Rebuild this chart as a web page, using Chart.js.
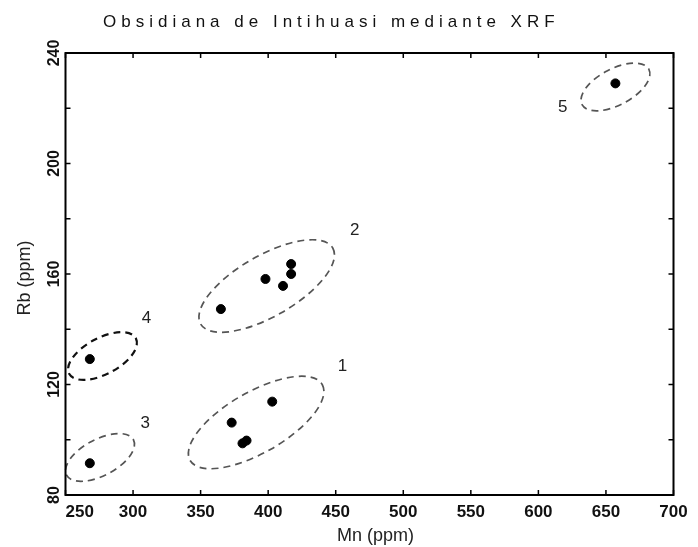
<!DOCTYPE html>
<html>
<head>
<meta charset="utf-8">
<script src="https://cdn.jsdelivr.net/npm/chart.js@4"></script>
<style>
  html, body { margin: 0; padding: 0; background: #fff; }
  canvas { display: block; }
</style>
</head>
<body>
<canvas id="chartXRF" width="698" height="547"></canvas>
<script>
// ── Dados ──
const mnValues = [657, 365, 398, 411, 417, 417, 403, 373, 381, 384, 268, 268];
const rbValues = [229, 147.3, 158.2, 155.7, 160, 163.6, 113.8, 106.2, 98.7, 99.7, 129.2, 91.5];

const xTicks = [250, 300, 350, 400, 450, 500, 550, 600, 650, 700];
const yTicks = [80, 120, 160, 200, 240];
const yMinorTicks = [100, 140, 180, 220];

// grupos: extremos do eixo maior (Mn, Rb) e razão eixo menor / maior
const groupNames = ['1', '2', '3', '4', '5'];
const groupMn1 = [342.2, 350, 250.8, 252.7, 632.3];
const groupRb1 = [92.5, 141.9, 87.2, 123.9, 221.3];
const groupMn2 = [440, 447.8, 300.3, 302.1, 681.8];
const groupRb2 = [120, 169.4, 100, 136.7, 234.1];
const groupRatio = [0.4, 0.4, 0.48, 0.48, 0.48];
const labelMn = [455, 464, 309, 310, 618];
const labelRb = [126.7, 175.9, 106, 144.1, 220.5];

const TITLE = 'Obsidiana de Intihuasi mediante XRF';
const FONT = '"Liberation Sans", Arial, sans-serif';

// ── Plugin: moldura, ticks, rótulos, elipses ──
const xrfDecor = {
  id: 'xrfDecor',
  afterDatasetsDraw(chart) {
    const { ctx, chartArea: a, scales: { x, y } } = chart;
    ctx.save();

    // elipses tracejadas
    groupNames.forEach((g, i) => {
      const x1 = x.getPixelForValue(groupMn1[i]), y1 = y.getPixelForValue(groupRb1[i]);
      const x2 = x.getPixelForValue(groupMn2[i]), y2 = y.getPixelForValue(groupRb2[i]);
      const rx = Math.hypot(x2 - x1, y2 - y1) / 2;
      ctx.beginPath();
      ctx.ellipse((x1 + x2) / 2, (y1 + y2) / 2, rx, rx * groupRatio[i], Math.atan2(y2 - y1, x2 - x1), 0, Math.PI * 2);
      ctx.setLineDash([7, 5]);
      ctx.lineWidth = g === '4' ? 2.2 : 1.7;
      ctx.strokeStyle = g === '4' ? '#111' : '#555';
      ctx.stroke();
    });
    ctx.setLineDash([]);

    // números dos grupos
    ctx.fillStyle = '#222';
    ctx.font = '17px ' + FONT;
    ctx.textAlign = 'center';
    ctx.textBaseline = 'middle';
    groupNames.forEach((g, i) => {
      ctx.fillText(g, x.getPixelForValue(labelMn[i]), y.getPixelForValue(labelRb[i]));
    });

    // moldura
    ctx.strokeStyle = '#000';
    ctx.lineWidth = 2;
    ctx.strokeRect(a.left, a.top, a.right - a.left, a.bottom - a.top);

    // ticks para dentro nos quatro lados
    const tl = 5;
    ctx.lineWidth = 1.5;
    ctx.beginPath();
    xTicks.forEach(v => {
      const px = x.getPixelForValue(v);
      ctx.moveTo(px, a.bottom); ctx.lineTo(px, a.bottom - tl);
      ctx.moveTo(px, a.top); ctx.lineTo(px, a.top + tl);
    });
    yTicks.concat(yMinorTicks).forEach(v => {
      const py = y.getPixelForValue(v);
      ctx.moveTo(a.left, py); ctx.lineTo(a.left + tl, py);
      ctx.moveTo(a.right, py); ctx.lineTo(a.right - tl, py);
    });
    ctx.stroke();

    // rótulos do eixo x
    ctx.fillStyle = '#111';
    ctx.font = 'bold 17px ' + FONT;
    xTicks.forEach((v, i) => {
      ctx.textAlign = i === 0 ? 'left' : 'center';
      ctx.fillText(String(v), x.getPixelForValue(v), 512);
    });

    // rótulos do eixo y (girados)
    ctx.font = 'bold 16px ' + FONT;
    ctx.textAlign = 'center';
    yTicks.forEach(v => {
      ctx.save();
      ctx.translate(55, y.getPixelForValue(v));
      ctx.rotate(-Math.PI / 2);
      ctx.fillText(String(v), 0, 0);
      ctx.restore();
    });

    // títulos dos eixos
    ctx.fillStyle = '#222';
    ctx.font = '18px ' + FONT;
    ctx.fillText('Mn (ppm)', (a.left + a.right) / 2 + 6, 536);
    ctx.save();
    ctx.translate(25, (a.top + a.bottom) / 2 + 4);
    ctx.rotate(-Math.PI / 2);
    ctx.fillText('Rb (ppm)', 0, 0);
    ctx.restore();

    // título com letras espaçadas
    ctx.fillStyle = '#111';
    ctx.font = '17px ' + FONT;
    ctx.textAlign = 'left';
    ctx.letterSpacing = '5px';
    ctx.fillText(TITLE, 103, 22);
    ctx.letterSpacing = '0px';

    ctx.restore();
  }
};

const ctx = document.getElementById('chartXRF').getContext('2d');
new Chart(ctx, {
  type: 'scatter',
  data: {
    datasets: [{
      label: 'Obsidiana',
      data: mnValues.map((v, i) => ({ x: v, y: rbValues[i] })),
      backgroundColor: '#000',
      borderColor: '#000',
      pointRadius: 4.5,
      pointHoverRadius: 4.5
    }]
  },
  options: {
    responsive: false,
    devicePixelRatio: 1,
    animation: false,
    layout: { padding: { left: 65.5, right: 24.5, top: 53, bottom: 52 } },
    plugins: { legend: { display: false }, tooltip: { enabled: false } },
    scales: {
      x: { type: 'linear', min: 250, max: 700, display: false },
      y: { type: 'linear', min: 80, max: 240, display: false }
    }
  },
  plugins: [xrfDecor]
});
</script>
</body>
</html>
